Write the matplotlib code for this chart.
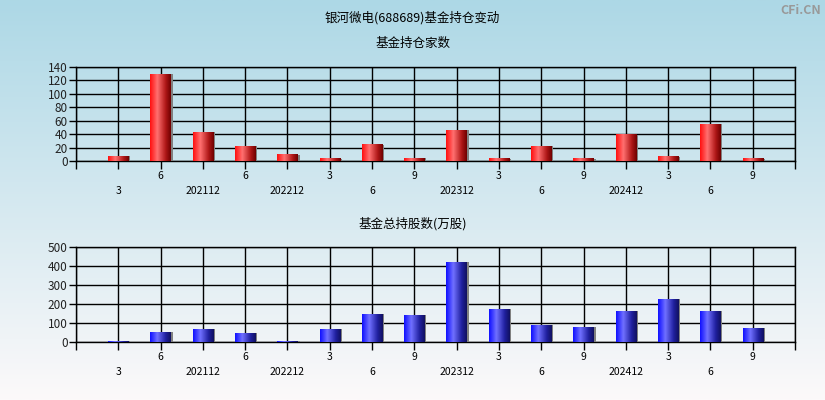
import numpy as np
import matplotlib
matplotlib.use("Agg")
import matplotlib.pyplot as plt
from matplotlib.colors import LinearSegmentedColormap

plt.rcParams['font.family'] = ['Noto Sans CJK SC', 'DejaVu Sans']

# data
periods = ["2021-03", "2021-06", "2021-12", "2022-06", "2022-12", "2023-03", "2023-06", "2023-09",
           "2023-12", "2024-03", "2024-06", "2024-09", "2024-12", "2025-03", "2025-06", "2025-09"]
tick_labels = ["\n3", "6", "\n202112", "6", "\n202212", "3", "\n6", "9",
               "\n202312", "3", "\n6", "9", "\n202412", "3", "\n6", "9"]
fund_count = [7, 129, 43, 22, 9, 3, 24, 4, 46, 3, 22, 3, 39, 6, 55, 3]
fund_shares = [5, 51, 67, 46, 5, 67, 146, 140, 419, 172, 88, 77, 161, 225, 161, 72]

fig = plt.figure(figsize=(8.25, 4), dpi=100)

# background gradient
bg = fig.add_axes([0, 0, 1, 1], zorder=-10)
top_c = np.array([173, 216, 230]) / 255
bot_c = np.array([252, 249, 250]) / 255
t = np.linspace(0, 1, 256)[:, None]
grad = top_c * (1 - t[..., None]) + bot_c * t[..., None]
bg.imshow(grad, aspect='auto', extent=[0, 1, 0, 1])
bg.axis('off')

fig.text(0.5, 0.955, "银河微电(688689)基金持仓变动", ha='center', va='center', fontsize=9)
fig.text(0.5, 0.892, "基金持仓家数", ha='center', va='center', fontsize=9)
fig.text(0.5, 0.44, "基金总持股数(万股)", ha='center', va='center', fontsize=9)
fig.text(0.995, 0.975, "CFi.CN", ha='right', va='center', fontsize=9, color='#999999', fontweight='bold')

red_cmap = LinearSegmentedColormap.from_list("r", [(0, "#ff1010"), (0.35, "#ff7070"), (0.75, "#b01818"), (1, "#700000")])
blue_cmap = LinearSegmentedColormap.from_list("b", [(0, "#1010ff"), (0.35, "#7070ff"), (0.75, "#2020a0"), (1, "#101060")])
bar_w = 0.48


def draw_panel(rect, values, ymax, ystep, cmap):
    ax = fig.add_axes(rect)
    ax.patch.set_alpha(0)
    x = np.arange(len(values))
    row = np.linspace(0, 1, 64)[None, :]
    for xi, v in zip(x, values):
        # shadow strip
        ax.bar(xi + bar_w / 2 + 0.02, v, width=0.05, color='#808080', zorder=3)
        ax.imshow(row, cmap=cmap, aspect='auto', zorder=4,
                  extent=[xi - bar_w / 2, xi + bar_w / 2, 0, v])
    ax.set_xlim(-1, len(values))
    ax.set_ylim(0, ymax)
    ax.set_yticks(np.arange(0, ymax + 1, ystep))
    ax.set_xticks(np.arange(-1, len(values) + 1))
    ax.set_xticklabels([""] + tick_labels + [""], linespacing=1.6)
    ax.grid(True, color='black', linewidth=1, zorder=1)
    ax.set_axisbelow(True)
    for s in ax.spines.values():
        s.set_color('black')
        s.set_linewidth(1)
    ax.tick_params(axis='x', length=6, width=1, labelsize=7.5, pad=1)
    ax.tick_params(axis='y', length=5, width=1, labelsize=8.5, pad=1, labelcolor='#222222')
    return ax


draw_panel([0.0921, 0.5975, 0.8715, 0.235], fund_count, 140, 20, red_cmap)
draw_panel([0.0921, 0.145, 0.8715, 0.2375], fund_shares, 500, 100, blue_cmap)

fig.savefig("out.png", dpi=100)
